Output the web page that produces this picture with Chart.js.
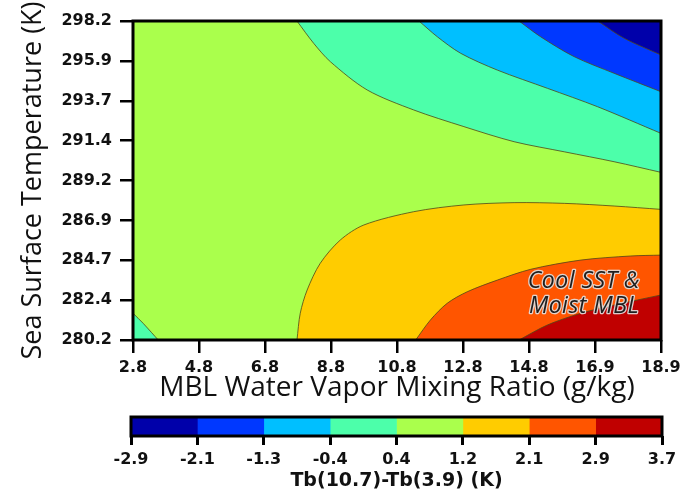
<!DOCTYPE html>
<html>
<head>
<meta charset="utf-8">
<script src="https://cdn.jsdelivr.net/npm/chart.js@4.4.0/dist/chart.umd.min.js"></script>
<style>
  html, body { margin: 0; padding: 0; background: #fff; }
  #wrap { position: relative; width: 694px; height: 500px; }
  #mainBox { position: absolute; left: 0; top: 0; width: 694px; height: 410px; }
  #barBox { position: absolute; left: 0; top: 400px; width: 694px; height: 100px; }
</style>
</head>
<body>
<div id="wrap">
  <div id="mainBox"><canvas id="contour"></canvas></div>
  <div id="barBox"><canvas id="colorbar"></canvas></div>
</div>
<script>
// ===== axis ticks =====
const xTickValues = [2.8, 4.8125, 6.825, 8.8375, 10.85, 12.8625, 14.875, 16.8875, 18.9];
const xTickLabels = ['2.8', '4.8', '6.8', '8.8', '10.8', '12.8', '14.8', '16.9', '18.9'];
const yTickValues = [280.2, 282.45, 284.7, 286.95, 289.2, 291.45, 293.7, 295.95, 298.2];
const yTickLabels = ['280.2', '282.4', '284.7', '286.9', '289.2', '291.4', '293.7', '295.9', '298.2'];

// ===== contour levels (K) =====
const levelEdges = [-2.9, -2.075, -1.25, -0.425, 0.4, 1.225, 2.05, 2.875, 3.7];
const levelLabels = ['-2.9', '-2.1', '-1.3', '-0.4', '0.4', '1.2', '2.1', '2.9', '3.7'];
const levelColors = ['#0000aa', '#0038ff', '#00bfff', '#4cffaa', '#aaff4c', '#ffcc00', '#ff5500', '#c00000'];

// ===== contour lines: [mixing ratio g/kg, SST K] =====
const lineM21 = [[16.97, 298.2], [17.78, 297.22], [18.9, 296.28]];
const lineM13 = [[14.57, 298.2], [15.23, 297.31], [16.25, 296.19], [17.47, 295.25], [18.9, 294.21]];
const lineM04 = [[11.52, 298.2], [12.08, 297.31], [12.79, 296.38], [13.91, 295.43], [15.44, 294.40], [16.97, 293.36], [18.9, 291.86]];
const lineP04 = [[7.80, 298.2], [8.31, 296.94], [8.82, 295.90], [9.94, 294.31], [11.36, 293.18], [12.89, 292.24],
                 [14.42, 291.39], [15.95, 290.82], [17.47, 290.26], [18.9, 289.66]];
const lineP04Corner = [[2.8, 281.71], [3.11, 281.14], [3.37, 280.61], [3.57, 280.2]];
const lineP12 = [[7.80, 280.2], [7.90, 281.71], [8.11, 283.02], [8.51, 284.53], [9.12, 285.84], [9.84, 286.69],
                 [11.36, 287.44], [12.89, 287.82], [14.42, 287.95], [15.95, 287.91], [17.47, 287.76], [18.9, 287.57]];
const lineP21 = [[11.42, 280.2], [11.87, 281.33], [12.38, 282.27], [12.99, 282.92], [13.91, 283.58], [14.93, 284.19],
                 [16.46, 284.71], [17.98, 284.94], [18.9, 284.99]];
const lineP29 = [[14.57, 280.2], [15.44, 281.05], [16.46, 281.71], [17.47, 282.17], [18.9, 282.74]];

const noteLines = ['Cool SST &', 'Moist MBL'];

const xMin = xTickValues[0], xMax = xTickValues[xTickValues.length - 1];
const yMin = yTickValues[0], yMax = yTickValues[yTickValues.length - 1];

// monta um dataset de contorno preenchido
function contourSet(points, color, fill, order) {
    return {
        data: points.map(p => ({ x: p[0], y: p[1] })),
        backgroundColor: color,
        borderColor: 'rgba(80, 70, 25, 0.8)',
        borderWidth: 1,
        pointRadius: 0,
        tension: 0.3,
        fill: fill,
        order: order
    };
}

// moldura preta em volta da área do gráfico
const frame = {
    id: 'frame',
    afterDraw(chart) {
        const { ctx, chartArea: a } = chart;
        ctx.save();
        ctx.strokeStyle = '#000';
        ctx.lineWidth = 3;
        ctx.strokeRect(a.left, a.top, a.right - a.left, a.bottom - a.top);
        ctx.restore();
    }
};

// texto "Cool SST & Moist MBL"
const note = {
    id: 'note',
    afterDatasetsDraw(chart) {
        const { ctx, scales } = chart;
        const px = scales.x.getPixelForValue(16.55);
        const ys = [scales.y.getPixelForValue(283.13), scales.y.getPixelForValue(281.72)];
        ctx.save();
        ctx.font = 'italic 23px "Open Sans"';
        ctx.letterSpacing = '0.5px';
        ctx.textAlign = 'center';
        ctx.textBaseline = 'alphabetic';
        ctx.lineJoin = 'round';
        noteLines.forEach((t, i) => {
            ctx.strokeStyle = 'rgba(225, 225, 225, 0.9)';
            ctx.lineWidth = 2.5;
            ctx.strokeText(t, px, ys[i]);
            ctx.fillStyle = '#1e1e1e';
            ctx.fillText(t, px, ys[i]);
        });
        ctx.restore();
    }
};

const tickFont = { family: 'DejaVu Sans', weight: 'bold', size: 16 };

// ===== Gráfico de contorno =====
new Chart(document.getElementById('contour'), {
    type: 'line',
    data: {
        datasets: [
            contourSet([[xMin, yMax], [xMax, yMax]], levelColors[4], 'start', 100),
            contourSet(lineP04, levelColors[3], 'end', 50),
            contourSet(lineM04, levelColors[2], 'end', 40),
            contourSet(lineM13, levelColors[1], 'end', 30),
            contourSet(lineM21, levelColors[0], 'end', 20),
            contourSet(lineP04Corner, levelColors[3], 'start', 50),
            contourSet(lineP12, levelColors[5], 'start', 50),
            contourSet(lineP21, levelColors[6], 'start', 40),
            contourSet(lineP29, levelColors[7], 'start', 30)
        ]
    },
    options: {
        responsive: true,
        maintainAspectRatio: false,
        animation: false,
        layout: { padding: { left: 0, top: 21, right: 33, bottom: 0 } },
        plugins: { legend: { display: false }, tooltip: { enabled: false } },
        scales: {
            x: {
                type: 'linear', min: xMin, max: xMax,
                afterBuildTicks: s => { s.ticks = xTickValues.map(v => ({ value: v })); },
                afterFit: s => { s.height = 70; },
                ticks: {
                    autoSkip: false, maxRotation: 0, padding: 5, color: '#111', font: tickFont,
                    callback: (v, i) => xTickLabels[i]
                },
                grid: { drawOnChartArea: false, tickLength: 13, color: '#000', lineWidth: 2.5 },
                border: { display: false },
                title: {
                    display: true, text: 'MBL Water Vapor Mixing Ratio (g/kg)', color: '#111',
                    font: { family: 'Open Sans', size: 28 }, padding: { top: 0, bottom: 5 }
                }
            },
            y: {
                type: 'linear', min: yMin, max: yMax,
                afterBuildTicks: s => { s.ticks = yTickValues.map(v => ({ value: v })); },
                afterFit: s => { s.width = 133; },
                ticks: {
                    autoSkip: false, padding: 8, color: '#111', font: tickFont,
                    callback: (v, i) => yTickLabels[i]
                },
                grid: { drawOnChartArea: false, tickLength: 13, color: '#000', lineWidth: 2.5 },
                border: { display: false },
                title: {
                    display: true, text: 'Sea Surface Temperature (K)', color: '#111',
                    font: { family: 'Open Sans', size: 27 }, padding: { top: 17, bottom: 0 }
                }
            }
        }
    },
    plugins: [note, frame]
});

// ===== Barra de cores =====
new Chart(document.getElementById('colorbar'), {
    type: 'bar',
    data: {
        labels: [''],
        datasets: levelColors.map((c, i) => ({
            data: [[levelEdges[i], levelEdges[i + 1]]],
            backgroundColor: c,
            borderWidth: 0,
            grouped: false,
            barPercentage: 1,
            categoryPercentage: 1
        }))
    },
    options: {
        indexAxis: 'y',
        responsive: true,
        maintainAspectRatio: false,
        animation: false,
        layout: { padding: { left: 131, right: 32, top: 17, bottom: 0 } },
        plugins: { legend: { display: false }, tooltip: { enabled: false } },
        scales: {
            x: {
                type: 'linear', min: levelEdges[0], max: levelEdges[levelEdges.length - 1],
                afterBuildTicks: s => { s.ticks = levelEdges.map(v => ({ value: v })); },
                afterFit: s => { s.height = 64; },
                ticks: {
                    autoSkip: false, maxRotation: 0, padding: 5, color: '#111', font: tickFont,
                    callback: (v, i) => levelLabels[i]
                },
                grid: { drawOnChartArea: false, tickLength: 9, color: '#000', lineWidth: 3 },
                border: { display: false },
                title: {
                    display: true, text: 'Tb(10.7)-Tb(3.9) (K)', color: '#111',
                    font: { family: 'DejaVu Sans', weight: 'bold', size: 19 }, padding: { top: 0, bottom: 8 }
                }
            },
            y: { display: false }
        }
    },
    plugins: [frame]
});
</script>
</body>
</html>
